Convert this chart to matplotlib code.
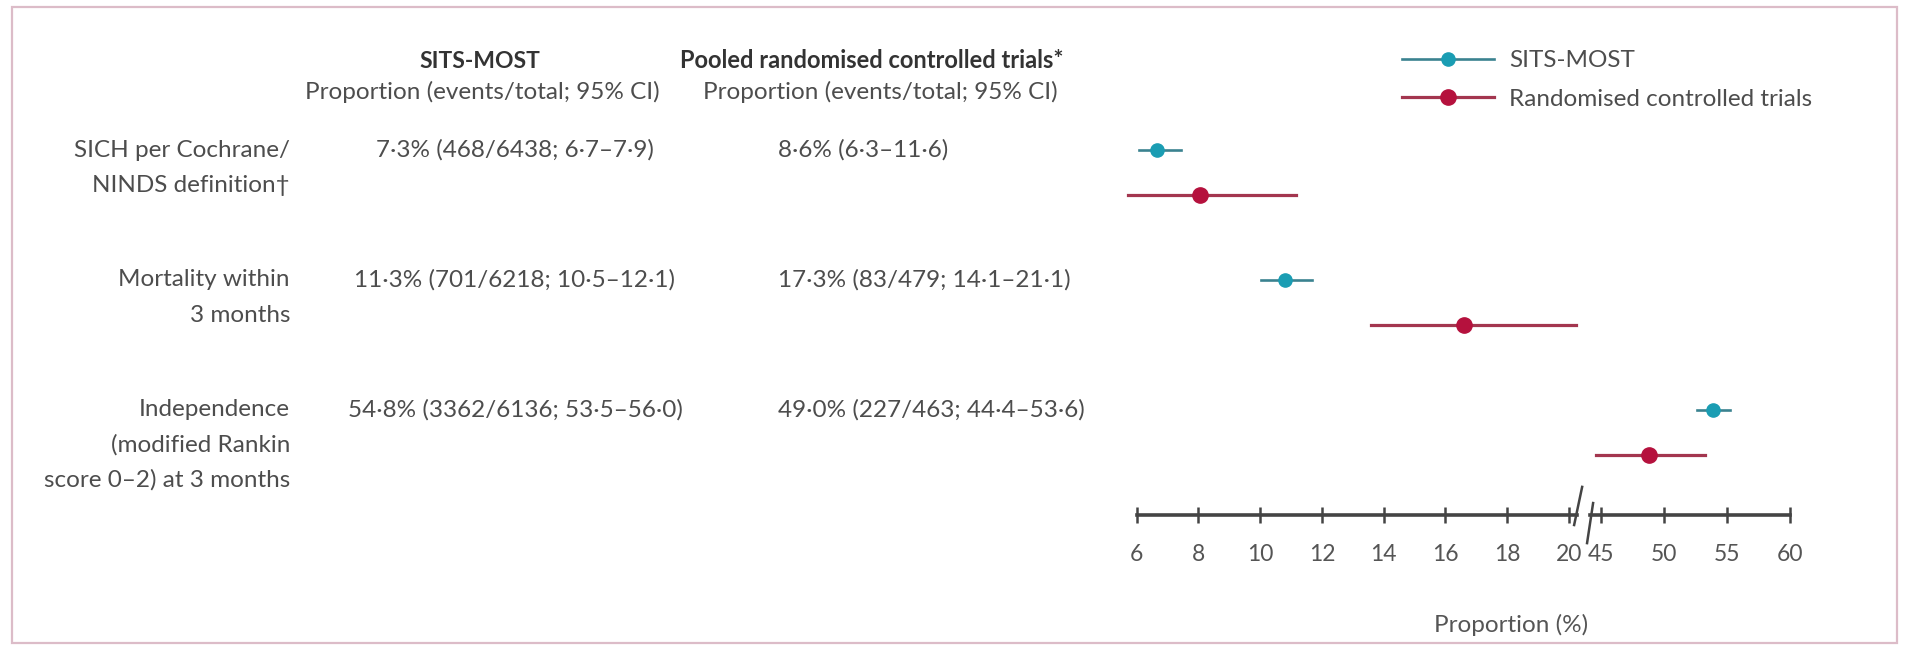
import matplotlib
matplotlib.use("Agg")
import matplotlib.pyplot as plt
import matplotlib.transforms as mtransforms
from matplotlib.lines import Line2D
from matplotlib.patches import Rectangle

plt.rcParams['font.family'] = ['Lato', 'DejaVu Sans']

# data
outcomes = [["SICH per Cochrane/", "NINDS definition†"],
            ["Mortality within", "3 months"],
            ["Independence", "(modified Rankin", "score 0–2) at 3 months"]]
sits_text = ["7·3% (468/6438; 6·7–7·9)",
             "11·3% (701/6218; 10·5–12·1)",
             "54·8% (3362/6136; 53·5–56·0)"]
rct_text = ["8·6% (6·3–11·6)",
            "17·3% (83/479; 14·1–21·1)",
            "49·0% (227/463; 44·4–53·6)"]

# values as drawn in the figure
sits_mid = [6.65, 10.8, 53.9]
sits_lo = [6.08, 10.02, 52.65]
sits_hi = [7.42, 11.67, 55.2]
rct_mid = [8.05, 16.6, 48.8]
rct_lo = [5.73, 13.6, 44.6]
rct_hi = [11.15, 20.23, 53.25]

ticks_low = [6, 8, 10, 12, 14, 16, 18, 20]
ticks_high = [45, 50, 55, 60]

W, H = 1912, 650
def fx(px):
    return px / W
def fy(py):
    return 1 - py / H

blue, blue_line = '#1a9db3', '#3a8290'
red, red_line = '#b5113d', '#a3364f'
txt = '#4d4d4d'
axis_c = '#444444'
fs = 17.5

fig = plt.figure(figsize=(W / 100, H / 100), dpi=100)

# frame
fig.patches.append(Rectangle((fx(12), fy(643)), fx(1897) - fx(12), fy(7) - fy(643),
                             transform=fig.transFigure, fill=False,
                             edgecolor='#dcbcc8', lw=1.6))

# broken axis: two panels sharing rows
top_px, bot_px = 130, 515
ax1 = fig.add_axes([fx(1136.7), fy(bot_px), fx(1576.6) - fx(1136.7), fy(top_px) - fy(bot_px)])
ax2 = fig.add_axes([fx(1589.7), fy(bot_px), fx(1790) - fx(1589.7), fy(top_px) - fy(bot_px)])
ax1.set_xlim(6, 20.25)
ax2.set_xlim(44.1, 60)
offset = 0.346
for ax in (ax1, ax2):
    ax.set_ylim(2.808, -0.154)
    ax.patch.set_alpha(0)
    for s in ('top', 'left', 'right'):
        ax.spines[s].set_visible(False)
    ax.spines['bottom'].set_color(axis_c)
    ax.spines['bottom'].set_linewidth(2.6)
    ax.set_yticks([])
    ax.tick_params(axis='x', direction='inout', length=12, width=1.8,
                   color=axis_c, labelsize=16.5, labelcolor='#555555', pad=15)
ax1.set_xticks(ticks_low)
ax2.set_xticks(ticks_high)
ax1.set_xticklabels([str(t) for t in ticks_low])
ax2.set_xticklabels([str(t) for t in ticks_high])

# break marks
tr1 = mtransforms.blended_transform_factory(ax1.transData, ax1.transAxes)
tr2 = mtransforms.blended_transform_factory(ax2.transData, ax2.transAxes)
ax1.plot([20.43, 20.17], [0.073, -0.026], color=axis_c, lw=1.8, transform=tr1, clip_on=False)
ax2.plot([44.37, 43.89], [0.031, -0.073], color=axis_c, lw=1.8, transform=tr2, clip_on=False)

# points with CI
for i in range(3):
    for mid, lo, hi, dy, c, lc, ms, lw in [
            (sits_mid[i], sits_lo[i], sits_hi[i], 0, blue, blue_line, 9.5, 1.9),
            (rct_mid[i], rct_lo[i], rct_hi[i], offset, red, red_line, 11, 2.3)]:
        ax = ax1 if mid < 30 else ax2
        ax.plot([lo, hi], [i + dy, i + dy], color=lc, lw=lw, clip_on=False, zorder=2)
        ax.plot([mid], [i + dy], 'o', color=c, ms=ms, clip_on=False, zorder=3)

# text columns aligned to rows
rowtr = mtransforms.blended_transform_factory(fig.transFigure, ax1.transData)
for i, lines in enumerate(outcomes):
    for k, line in enumerate(lines):
        fig.text(fx(290), i + k * 0.27, line, transform=rowtr, ha='right', va='center',
                 fontsize=fs, color=txt)
    fig.text(fx(515), i, sits_text[i], transform=rowtr, ha='center', va='center',
             fontsize=fs, color=txt)
    fig.text(fx(778), i, rct_text[i], transform=rowtr, ha='left', va='center',
             fontsize=fs, color=txt)

# column headers
fig.text(fx(480), fy(61), "SITS-MOST", ha='center', va='center', fontsize=16.5,
         fontweight='bold', color='#333333')
fig.text(fx(482), fy(92), "Proportion (events/total; 95% CI)", ha='center', va='center',
         fontsize=fs, color=txt)
fig.text(fx(872), fy(61), "Pooled randomised controlled trials*", ha='center', va='center',
         fontsize=17, fontweight='bold', color='#333333')
fig.text(fx(880), fy(92), "Proportion (events/total; 95% CI)", ha='center', va='center',
         fontsize=fs, color=txt)

# axis title
fig.text(fx(1511), fy(625), "Proportion (%)", ha='center', va='center', fontsize=fs,
         color='#555555')

# legend
handles = [Line2D([], [], color=blue_line, lw=1.9, marker='o', ms=9.5,
                  markerfacecolor=blue, markeredgecolor=blue),
           Line2D([], [], color=red_line, lw=2.3, marker='o', ms=11,
                  markerfacecolor=red, markeredgecolor=red)]
fig.legend(handles, ["SITS-MOST", "Randomised controlled trials"], loc='upper left',
           bbox_to_anchor=(fx(1402), fy(50)), frameon=False, fontsize=fs,
           handlelength=3.8, handletextpad=0.62, labelspacing=0.72,
           borderpad=0, borderaxespad=0, labelcolor=txt)

fig.savefig('out.png', dpi=100)
